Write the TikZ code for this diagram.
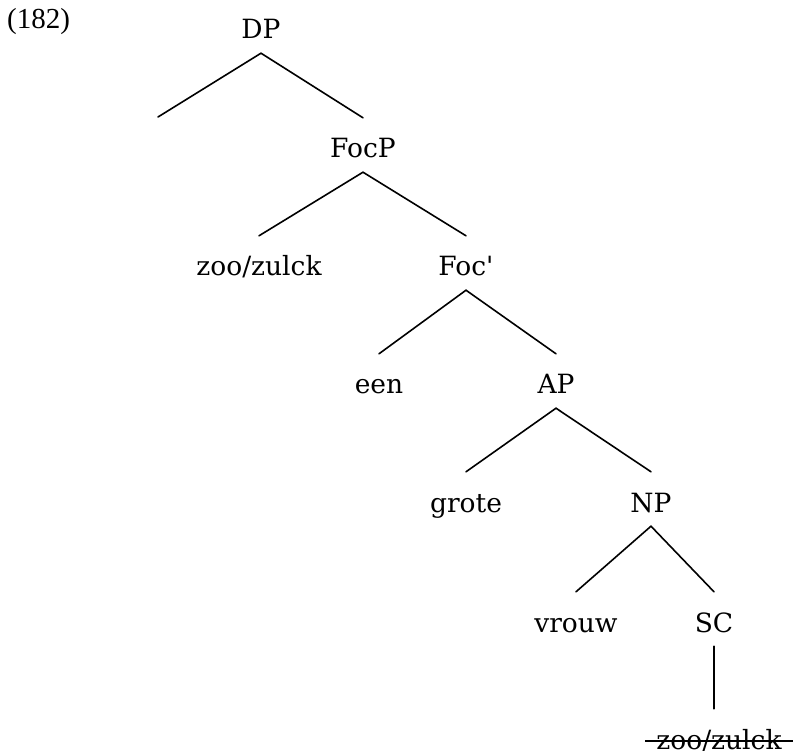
\documentclass[tikz,border=0pt]{standalone}
\usepackage{fontspec}
\setmainfont{DejaVu Serif}
\newfontfamily\exfont{Liberation Serif}
\begin{document}
\begin{tikzpicture}[x=1pt,y=1pt,
  lbl/.style={anchor=base, inner xsep=0pt, inner ysep=10pt,
    text height=30pt, text depth=4pt,
    font=\fontsize{26.5}{30}\selectfont},
  branch/.style={line width=1.6pt, line cap=round}]
  \useasboundingbox (0,0) rectangle (793,-751);

  % example number
  \node[anchor=base west, inner sep=0pt, font=\exfont\fontsize{29}{32}\selectfont]
    (exnum) at (7,-29) {(182)};

  % tree labels (placed on their baselines)
  \node[lbl] (dp)    at (261,-39)  {DP};
  \coordinate (spec) at (158,-117);
  \node[lbl] (focp)  at (363,-158) {FocP};
  \node[lbl] (zoo)   at (259,-276) {zoo/zulck};
  \node[lbl] (focb)  at (466,-276) {Foc\textquotesingle};
  \node[lbl] (een)   at (379,-394) {een};
  \node[lbl] (ap)    at (556,-394) {AP};
  \node[lbl] (grote) at (466,-512) {grote};
  \node[lbl] (np)    at (651,-512) {NP};
  \node[lbl] (vrouw) at (576,-632) {vrouw};
  \node[lbl] (sc)    at (714,-632) {SC};
  \node[lbl] (trace) at (719,-749) {zoo/zulck};

  % branches
  \draw[branch] (spec) -- (dp.south) -- (focp.north);
  \draw[branch] (zoo.north) -- (focp.south) -- (focb.north);
  \draw[branch] (een.north) -- (focb.south) -- (ap.north);
  \draw[branch] (grote.north) -- (ap.south) -- (np.north);
  \draw[branch] (vrouw.north) -- (np.south) -- (sc.north);
  \draw[branch] (sc.south) -- (sc.south |- trace.north);

  % deleted copy: struck through
  \draw[line width=1.4pt] ([shift={(-11pt,8pt)}]trace.base west)
    -- ([shift={(11pt,8pt)}]trace.base east);
\end{tikzpicture}
\end{document}
